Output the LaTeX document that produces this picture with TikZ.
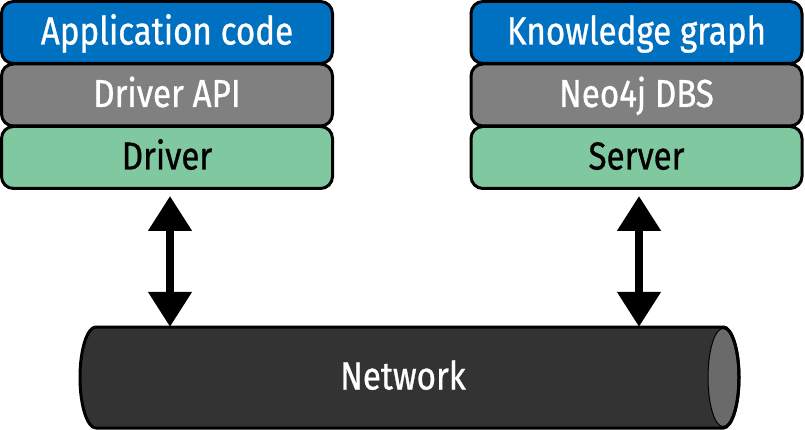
\documentclass[tikz,border=0pt]{standalone}
\usepackage{fontspec}
\setmainfont{Fira Sans}[FakeStretch=0.85, FakeBold=0.8]
\usetikzlibrary{arrows.meta}
\definecolor{appblue}{HTML}{0070C0}
\definecolor{apigray}{HTML}{808080}
\definecolor{drvgreen}{HTML}{80C8A0}
\definecolor{netdark}{HTML}{333333}
\definecolor{netend}{HTML}{6A6A6A}
\tikzset{
  layer/.style={draw=black, line width=3pt, rounded corners=12pt,
    minimum width=331pt, minimum height=62pt, inner sep=0pt,
    text height=27pt, text depth=3pt,
    font=\fontsize{39}{42}\selectfont},
  link/.style={line width=8pt,
    {Triangle[length=35pt,width=42pt]}-{Triangle[length=35pt,width=42pt]},
    shorten <=6pt},
}
\begin{document}
\begin{tikzpicture}[x=1pt,y=-1pt]
\useasboundingbox (0,0) rectangle (805,430);
% left stack
\node[layer, fill=appblue, text=white] (app) at (167,32.5) {Application code};
\node[layer, fill=apigray, text=white] (api) at (167,95) {Driver API};
\node[layer, fill=drvgreen, text=black] (drv) at (167,157.5) {Driver};
% right stack
\node[layer, fill=appblue, text=white] (kg) at (636.5,32.5) {Knowledge graph};
\node[layer, fill=apigray, text=white] (dbs) at (636.5,95) {Neo4j DBS};
\node[layer, fill=drvgreen, text=black] (srv) at (636.5,157.5) {Server};
% network cylinder (y axis points down: angle -90 is the top)
\draw[line width=3pt, fill=netdark]
  (96,327) -- (723,327) arc[start angle=-90, end angle=90, x radius=16, y radius=50.5]
  -- (96,428) arc[start angle=90, end angle=270, x radius=16, y radius=50.5] -- cycle;
\draw[line width=1pt, fill=netend] (723,377.5) ellipse[x radius=15, y radius=49];
\draw[line width=3pt] (723,327) arc[start angle=-90, end angle=90, x radius=16, y radius=50.5];
\node[inner sep=0pt, minimum height=101pt, text=white, text height=27pt, text depth=3pt,
  font=\fontsize{39}{42}\selectfont] (net) at (403,377.5) {Network};
% connectors
\coordinate (lx) at (170,0);
\coordinate (rx) at (639,0);
\draw[link] (lx |- drv.south) -- (lx |- net.north);
\draw[link] (rx |- srv.south) -- (rx |- net.north);
\end{tikzpicture}
\end{document}
